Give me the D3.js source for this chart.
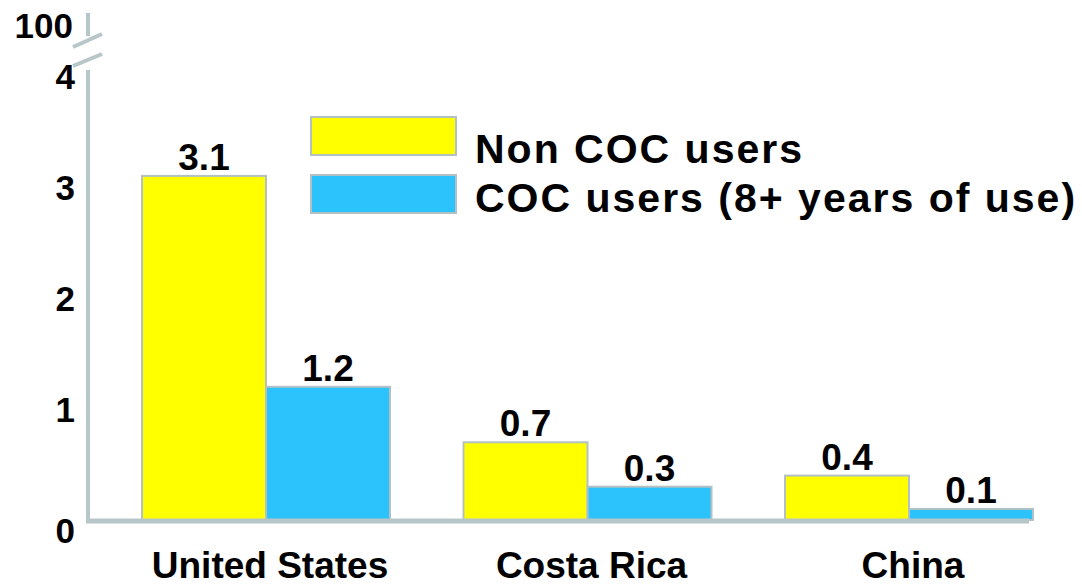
<!DOCTYPE html>
<html>
<head>
<meta charset="utf-8">
<script src="https://cdn.jsdelivr.net/npm/d3@7/dist/d3.min.js"></script>
<style>
  html, body { margin: 0; padding: 0; background: #ffffff; }
  svg { display: block; font-family: "Liberation Sans", Arial, Helvetica, sans-serif; font-weight: bold; }
</style>
</head>
<body>
<svg id="chart" width="1082" height="587"></svg>
<script>
// Countries along the x axis
const countries = ["United States", "Costa Rica", "China"];
// Series shown side by side in each country group
const seriesNames = ["Non COC users", "COC users (8+ years of use)"];
const nonCocValues = [3.1, 0.7, 0.4];
const cocValues = [1.2, 0.3, 0.1];
// Y axis tick values, plus the label above the axis break
const yTicks = [0, 1, 2, 3, 4];
const breakLabel = "100";

const colors = ["#ffff00", "#2cc3fd"];
const axisColor = "#b7c6c8";
const barStroke = "#b3c1c4";
const fontStack = "Liberation Sans, Arial, sans-serif";

const svg = d3.select("#chart");

const baseY = 520;
const axisX = 88;

const y = d3.scaleLinear().domain([0, 4]).range([baseY, 76]);

const x0 = d3.scaleBand()
  .domain(countries)
  .range([142, 1033])
  .paddingInner(0.2286)
  .paddingOuter(0);

const x1 = d3.scaleBand()
  .domain(seriesNames)
  .range([0, x0.bandwidth()])
  .padding(0);

const rows = countries.map((c, i) => ({
  country: c,
  values: [
    { series: seriesNames[0], value: nonCocValues[i] },
    { series: seriesNames[1], value: cocValues[i] }
  ]
}));

// Bars
const groups = svg.append("g").selectAll("g")
  .data(rows)
  .join("g")
  .attr("transform", d => `translate(${x0(d.country)},0)`);

groups.selectAll("rect")
  .data(d => d.values)
  .join("rect")
  .attr("x", d => x1(d.series))
  .attr("y", d => y(d.value))
  .attr("width", x1.bandwidth())
  .attr("height", d => baseY - y(d.value))
  .attr("fill", (d, i) => colors[i])
  .attr("stroke", barStroke)
  .attr("stroke-width", 2);

// Value labels above bars
groups.selectAll("text.value")
  .data(d => d.values)
  .join("text")
  .attr("class", "value")
  .attr("x", d => x1(d.series) + x1.bandwidth() / 2)
  .attr("y", d => y(d.value) - 6)
  .attr("text-anchor", "middle")
  .attr("font-size", 37)
  .attr("fill", "#000")
  .text(d => d.value.toFixed(1));

// X axis baseline
svg.append("line")
  .attr("x1", axisX - 2).attr("x2", 1029)
  .attr("y1", baseY + 1).attr("y2", baseY + 1)
  .attr("stroke", axisColor)
  .attr("stroke-width", 5);

// Y axis (broken near the top)
svg.append("line")
  .attr("x1", axisX).attr("x2", axisX)
  .attr("y1", 70).attr("y2", baseY + 3)
  .attr("stroke", axisColor)
  .attr("stroke-width", 4);
svg.append("line")
  .attr("x1", axisX).attr("x2", axisX)
  .attr("y1", 13).attr("y2", 36)
  .attr("stroke", axisColor)
  .attr("stroke-width", 4);
[[47, 34], [66, 54]].forEach(([ya, yb]) => {
  svg.append("line")
    .attr("x1", 73).attr("y1", ya)
    .attr("x2", 102).attr("y2", yb)
    .attr("stroke", axisColor)
    .attr("stroke-width", 4);
});

// Y tick labels through a d3 axis
const yAxis = d3.axisLeft(y)
  .tickValues(yTicks)
  .tickSize(0)
  .tickPadding(0)
  .tickFormat(d3.format("d"));

const yAxisG = svg.append("g")
  .attr("transform", `translate(${axisX - 13},0)`)
  .call(yAxis);
yAxisG.select(".domain").remove();
yAxisG.selectAll("text")
  .attr("font-size", 35)
  .attr("font-family", fontStack)
  .attr("font-weight", "bold")
  .attr("fill", "#000")
  .attr("dy", d => d === 0 ? "0.65em" : "0.36em");

svg.append("text")
  .attr("x", 73)
  .attr("y", 25)
  .attr("dy", "0.36em")
  .attr("text-anchor", "end")
  .attr("font-size", 35)
  .attr("fill", "#000")
  .text(breakLabel);

// Country labels
const xAxis = d3.axisBottom(x0).tickSize(0).tickPadding(0);
const xAxisG = svg.append("g")
  .attr("transform", `translate(4,578)`)
  .call(xAxis);
xAxisG.select(".domain").remove();
xAxisG.selectAll("text")
  .attr("dy", 0)
  .attr("font-size", 37)
  .attr("font-family", fontStack)
  .attr("font-weight", "bold")
  .attr("fill", "#000");

// Legend
const legend = svg.append("g");
const legendRows = seriesNames.map((s, i) => ({ name: s, color: colors[i] }));
const legendTop = [117, 175];
const legendBase = [163, 212];

legend.selectAll("rect")
  .data(legendRows)
  .join("rect")
  .attr("x", 311)
  .attr("y", (d, i) => legendTop[i])
  .attr("width", 145)
  .attr("height", 38)
  .attr("fill", d => d.color)
  .attr("stroke", barStroke)
  .attr("stroke-width", 2);

legend.selectAll("text")
  .data(legendRows)
  .join("text")
  .attr("x", 475)
  .attr("y", (d, i) => legendBase[i])
  .attr("font-size", 41)
  .attr("letter-spacing", 2)
  .attr("fill", "#000")
  .text(d => d.name);
</script>
</body>
</html>
